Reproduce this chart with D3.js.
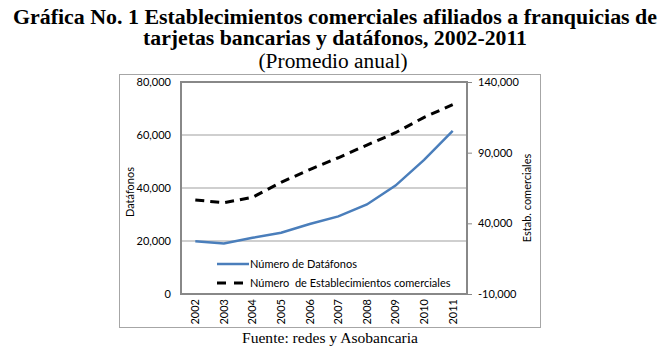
<!DOCTYPE html>
<html>
<head>
<meta charset="utf-8">
<script src="https://cdnjs.cloudflare.com/ajax/libs/d3/7.8.5/d3.min.js"></script>
<style>
  body { margin: 0; background: #fff; }
  svg text { fill: #000; }
</style>
</head>
<body>
<div id="chart-area"></div>
<script>
// data
var years = ["2002","2003","2004","2005","2006","2007","2008","2009","2010","2011"];
var datafonos = [19900, 19100, 21200, 23100, 26400, 29300, 33800, 40900, 50600, 61600];
var establecimientos = [56500, 54600, 58400, 69000, 78000, 86400, 95400, 104100, 115000, 124000];
var leftTicks = [0, 20000, 40000, 60000, 80000];
var rightTicks = [-10000, 40000, 90000, 140000];

var W = 670, H = 354;
var plot = {left: 181, top: 82, right: 467, bottom: 294};

var svg = d3.select("#chart-area")
  .append("svg")
    .attr("width", W)
    .attr("height", H);

var serif = "'Liberation Serif', 'Times New Roman', serif";
var sans = "Lato, 'Open Sans', sans-serif";

// titles (the original is a bit stretched sideways)
svg.append("text")
  .attr("x", 335).attr("y", 24)
  .attr("text-anchor", "middle")
  .attr("font-family", serif).attr("font-size", "20px").attr("font-weight", "bold")
  .attr("textLength", 644).attr("lengthAdjust", "spacingAndGlyphs")
  .text("Gráfica No. 1 Establecimientos comerciales afiliados a franquicias de");
svg.append("text")
  .attr("x", 335).attr("y", 45)
  .attr("text-anchor", "middle")
  .attr("font-family", serif).attr("font-size", "20px").attr("font-weight", "bold")
  .attr("textLength", 384).attr("lengthAdjust", "spacingAndGlyphs")
  .text("tarjetas bancarias y datáfonos, 2002-2011");
svg.append("text")
  .attr("x", 333).attr("y", 68)
  .attr("text-anchor", "middle")
  .attr("font-family", serif).attr("font-size", "20px")
  .attr("textLength", 149).attr("lengthAdjust", "spacingAndGlyphs")
  .text("(Promedio anual)");

// outer chart frame
svg.append("rect")
  .attr("x", 119.5).attr("y", 74.5)
  .attr("width", 421).attr("height", 253)
  .attr("fill", "none")
  .attr("stroke", "#a6a6a6");

svg.append("text")
  .attr("x", 330).attr("y", 343)
  .attr("text-anchor", "middle")
  .attr("font-family", serif).attr("font-size", "15px")
  .attr("textLength", 176).attr("lengthAdjust", "spacingAndGlyphs")
  .text("Fuente: redes y Asobancaria");

// scales
var x = d3.scaleBand()
  .domain(years)
  .range([plot.left, plot.right]);

var yL = d3.scaleLinear()
  .domain([0, 80000])
  .range([plot.bottom, plot.top]);

var yR = d3.scaleLinear()
  .domain([-10000, 140000])
  .range([plot.bottom, plot.top]);

var fmt = function(d){ return d3.format(",")(d).replace("\u2212", "-"); };

// gridlines
svg.append("g")
  .selectAll("line")
  .data(leftTicks.filter(function(d){ return d > 0 && d < 80000; }))
  .enter()
  .append("line")
    .attr("x1", plot.left).attr("x2", plot.right)
    .attr("y1", function(d){ return yL(d); })
    .attr("y2", function(d){ return yL(d); })
    .attr("stroke", "#9f9f9f")
    .attr("stroke-width", 1);

// plot border
svg.append("rect")
  .attr("x", plot.left).attr("y", plot.top)
  .attr("width", plot.right - plot.left)
  .attr("height", plot.bottom - plot.top)
  .attr("fill", "none")
  .attr("stroke", "#888")
  .attr("stroke-width", 2);

// left axis
var leftAxis = svg.append("g")
  .attr("transform", "translate(" + plot.left + ",0)")
  .call(d3.axisLeft(yL).tickValues(leftTicks).tickFormat(fmt).tickSize(0).tickPadding(10));
leftAxis.select(".domain").remove();
leftAxis.selectAll("text")
  .attr("font-family", sans).attr("font-size", "11px").attr("fill", "#000");

// right axis
var rightAxis = svg.append("g")
  .attr("transform", "translate(" + plot.right + ",0)")
  .call(d3.axisRight(yR).tickValues(rightTicks).tickFormat(fmt).tickSize(5).tickPadding(6));
rightAxis.select(".domain").remove();
rightAxis.selectAll("line").attr("stroke", "#888");
rightAxis.selectAll("text")
  .attr("font-family", sans).attr("font-size", "11px").attr("fill", "#000");

// x axis (rotated years)
var xAxis = svg.append("g")
  .attr("transform", "translate(0," + plot.bottom + ")")
  .call(d3.axisBottom(x).tickSize(0).tickPadding(0));
xAxis.select(".domain").remove();
xAxis.selectAll("text")
  .attr("font-family", sans).attr("font-size", "11px").attr("fill", "#000")
  .attr("transform", "rotate(-90)")
  .attr("text-anchor", "end")
  .attr("dy", "0.35em")
  .attr("x", -5)
  .attr("y", 0);

// axis titles
svg.append("text")
  .attr("transform", "translate(134,192) rotate(-90)")
  .attr("text-anchor", "middle")
  .attr("font-family", sans).attr("font-size", "11px")
  .text("Datáfonos");

svg.append("text")
  .attr("transform", "translate(531,198) rotate(-90)")
  .attr("text-anchor", "middle")
  .attr("font-family", sans).attr("font-size", "11px")
  .text("Estab. comerciales");

// lines
var lineL = d3.line()
  .x(function(d, i){ return x(years[i]) + x.bandwidth() / 2; })
  .y(function(d){ return yL(d); });

var lineR = d3.line()
  .x(function(d, i){ return x(years[i]) + x.bandwidth() / 2; })
  .y(function(d){ return yR(d); });

svg.append("path")
  .datum(datafonos)
  .attr("d", lineL)
  .attr("fill", "none")
  .attr("stroke", "#4a7ebb")
  .attr("stroke-width", 2.5);

svg.append("path")
  .datum(establecimientos)
  .attr("d", lineR)
  .attr("fill", "none")
  .attr("stroke", "#000")
  .attr("stroke-width", 3)
  .attr("stroke-dasharray", "9,6");

// legend
var legend = svg.append("g");
legend.append("line")
  .attr("x1", 217).attr("x2", 249).attr("y1", 264).attr("y2", 264)
  .attr("stroke", "#4a7ebb").attr("stroke-width", 2.5);
legend.append("text")
  .attr("x", 250).attr("y", 268)
  .attr("font-family", sans).attr("font-size", "11px")
  .text("Número de Datáfonos");
legend.append("line")
  .attr("x1", 217).attr("x2", 249).attr("y1", 283).attr("y2", 283)
  .attr("stroke", "#000").attr("stroke-width", 3).attr("stroke-dasharray", "9,8");
legend.append("text")
  .attr("x", 250).attr("y", 287)
  .attr("font-family", sans).attr("font-size", "11px")
  .attr("xml:space", "preserve")
  .style("white-space", "pre")
  .text("Número  de Establecimientos comerciales");
</script>
</body>
</html>
